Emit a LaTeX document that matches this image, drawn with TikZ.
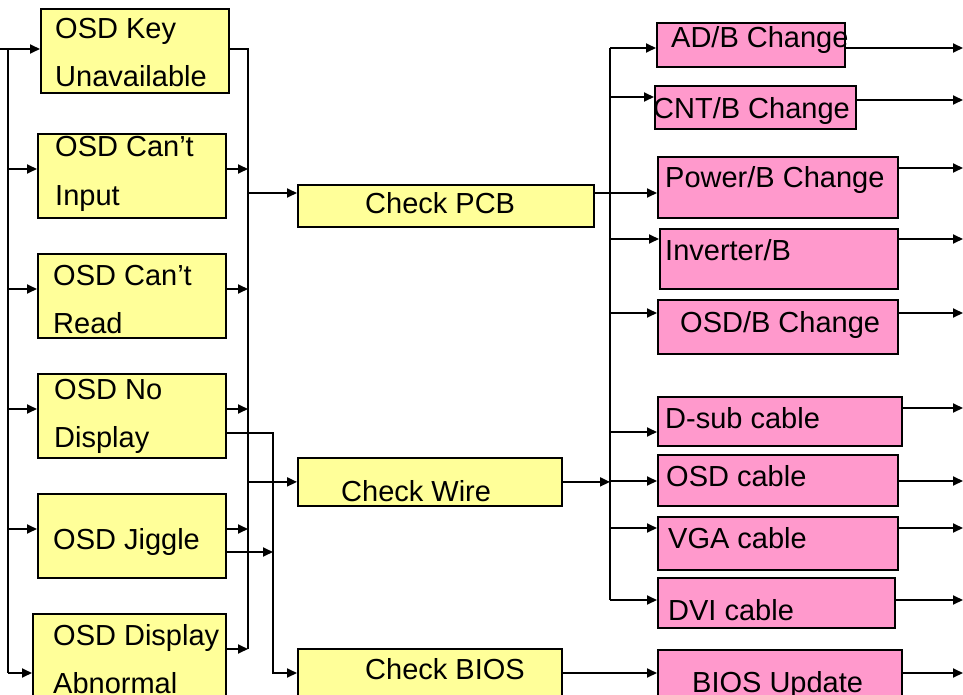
\documentclass[tikz,border=0pt]{standalone}
\usepackage{fontspec}
\setmainfont{Liberation Sans}
\usetikzlibrary{arrows.meta}
\definecolor{ylw}{RGB}{255,255,153}
\definecolor{pnk}{RGB}{255,153,204}
\begin{document}
\begin{tikzpicture}[x=1pt,y=-1pt,
  box/.style={draw=black,line width=1.8pt,rectangle,inner sep=0pt,anchor=north west},
  ybox/.style={box,fill=ylw},
  pbox/.style={box,fill=pnk},
  txt/.style={anchor=base west,inner sep=0pt,font=\fontsize{29}{34}\selectfont},
  ln/.style={line width=1.8pt},
  arr/.style={ln,-{Triangle[length=10pt,width=9pt]}}]
\useasboundingbox (0,0) rectangle (963,695);
\fill[white] (0,0) rectangle (963,695);
% left yellow boxes
\node[ybox,minimum width=188pt,minimum height=84pt] (k1) at (40,8) {};
\node[ybox,minimum width=188pt,minimum height=84pt] (k2) at (37,133) {};
\node[ybox,minimum width=188pt,minimum height=84pt] (k3) at (37,253) {};
\node[ybox,minimum width=188pt,minimum height=84pt] (k4) at (37,373) {};
\node[ybox,minimum width=188pt,minimum height=84pt] (k5) at (37,493) {};
\node[ybox,minimum width=193pt,minimum height=95pt] (k6) at (32,613) {};
% middle
\node[ybox,minimum width=296pt,minimum height=42pt] (pcb) at (297,184) {};
\node[ybox,minimum width=264pt,minimum height=48pt] (wire) at (297,457) {};
\node[ybox,minimum width=264pt,minimum height=60pt] (bios) at (297,648) {};
% pink
\node[pbox,minimum width=188pt,minimum height=44pt] (adb) at (656,22) {};
\node[pbox,minimum width=201pt,minimum height=43pt] (cnt) at (654,85) {};
\node[pbox,minimum width=240pt,minimum height=61pt] (pow) at (657,156) {};
\node[pbox,minimum width=238pt,minimum height=60pt] (inv) at (659,228) {};
\node[pbox,minimum width=240pt,minimum height=54pt] (osdb) at (657,299) {};
\node[pbox,minimum width=244pt,minimum height=49pt] (dsub) at (657,396) {};
\node[pbox,minimum width=240pt,minimum height=51pt] (osdc) at (657,454) {};
\node[pbox,minimum width=240pt,minimum height=53pt] (vga) at (657,516) {};
\node[pbox,minimum width=237pt,minimum height=50pt] (dvi) at (657,577) {};
\node[pbox,minimum width=244pt,minimum height=60pt] (bup) at (657,649) {};
% texts
\node[txt] (t1a) at (55,39) {OSD Key};
\node[txt] (t1b) at (55,87) {Unavailable};
\node[txt] (t2a) at (55,157) {OSD Can’t};
\node[txt] (t2b) at (55,205) {Input};
\node[txt] (t3a) at (53,285) {OSD Can’t};
\node[txt] (t3b) at (53,333) {Read};
\node[txt] (t4a) at (54,399) {OSD No};
\node[txt] (t4b) at (54,447) {Display};
\node[txt] (t5) at (53,549) {OSD Jiggle};
\node[txt] (t6a) at (53,645) {OSD Display};
\node[txt] (t6b) at (53,693) {Abnormal};
\node[txt] (tpcb) at (365,213) {Check PCB};
\node[txt] (twire) at (341,501) {Check Wire};
\node[txt] (tbios) at (365,679) {Check BIOS};
\node[txt] (tadb) at (671,48) {AD/B Change};
\node[txt] (tcnt) at (653,119) {CNT/B Change};
\node[txt] (tpow) at (665,188) {Power/B Change};
\node[txt] (tinv) at (665,260) {Inverter/B};
\node[txt] (tosdb) at (680,332) {OSD/B Change};
\node[txt] (tdsub) at (665,428) {D-sub cable};
\node[txt] (tosdc) at (666,486) {OSD cable};
\node[txt] (tvga) at (668,548) {VGA cable};
\node[txt] (tdvi) at (668,620) {DVI cable};
\node[txt] (tbup) at (692,692) {BIOS Update};
% coordinates
\coordinate (in0) at (0,49);
\coordinate (lbt) at (8,49);
\coordinate (lbb) at (8,673);
\coordinate (mbt) at (248,49);
\coordinate (mbb) at (248,649);
\coordinate (jb) at (273,433);
\coordinate (jbb) at (273,673);
\coordinate (rbt) at (610,48);
\coordinate (rbb) at (610,600);
\coordinate (re) at (963,0);
% left bus
\draw[arr] (in0) -- (k1.west |- in0);
\draw[ln] (lbt) -- (lbb);
\foreach \b/\y in {k2/169,k3/289,k4/409,k5/529,k6/673}
  \draw[arr] (lbt |- 0,\y) -- (\b.west |- 0,\y);
% middle bus
\draw[ln] (k1.east |- mbt) -- (mbt) -- (mbb);
\foreach \b/\y in {k2/169,k3/289,k4/409,k5/529,k6/649}
  \draw[arr] (\b.east |- 0,\y) -- (mbt |- 0,\y);
\draw[arr] (mbt |- 0,193) -- (pcb.west |- 0,193);
\draw[arr] (mbt |- wire.west) -- (wire.west);
\draw[arr] (k4.east |- jb) -- (jb) -- (jbb) -- (bios.west |- jbb);
\draw[arr] (k5.east |- 0,552) -- (jb |- 0,552);
% right bus
\draw[arr] (pcb.east |- 0,193) -- (pow.west |- 0,193);
\draw[ln] (rbt) -- (rbb);
\foreach \b/\y in {adb/48,cnt/97,inv/239,osdb/313,dsub/432,osdc/481,vga/528,dvi/600}
  \draw[arr] (rbt |- 0,\y) -- (\b.west |- 0,\y);
\draw[arr] (wire.east) -- (rbt |- wire.east);
\draw[arr] (bios.east |- 0,673) -- (bup.west |- 0,673);
% outputs
\foreach \b/\y in {adb/48,cnt/100,pow/168,inv/239,osdb/313,dsub/408,osdc/481,vga/528,dvi/600,bup/673}
  \draw[arr] (\b.east |- 0,\y) -- (re |- 0,\y);
\end{tikzpicture}
\end{document}
